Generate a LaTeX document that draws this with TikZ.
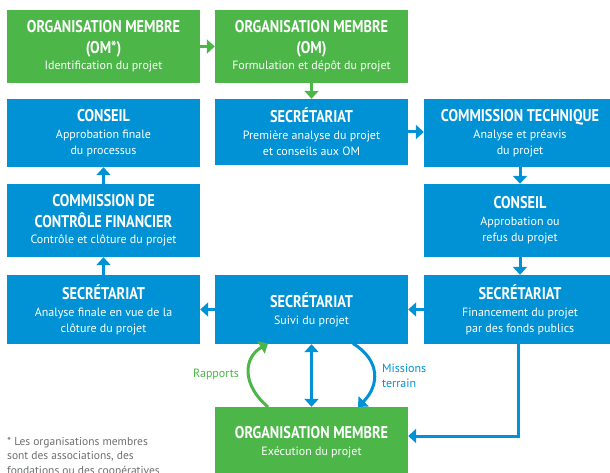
\documentclass[tikz,border=0pt]{standalone}
\usepackage{fontspec}
\setmainfont{PT Sans}
\newfontfamily\titlefam[FakeStretch=0.84]{PT Sans}
\usetikzlibrary{arrows.meta}
\definecolor{omgreen}{HTML}{4CB748}
\definecolor{cblue}{HTML}{0092D5}
\definecolor{ftgray}{HTML}{6D6E70}
\newcommand{\ttl}{\titlefam\bfseries\fontsize{17}{16}\selectfont}
\newcommand{\sbt}{\fontsize{12}{16}\selectfont}
\begin{document}
\begin{tikzpicture}[x=1pt,y=-1pt,
  box/.style={rectangle, inner sep=0pt, minimum width=193pt, align=center, text=white, font=\fontsize{12}{16}\selectfont},
  gbox/.style={box, fill=omgreen},
  bbox/.style={box, fill=cblue},
  flow/.style={line width=3pt, -{Triangle[length=8pt,width=14pt]}},
  gflow/.style={flow, draw=omgreen},
  bflow/.style={flow, draw=cblue},
  lbl/.style={font=\fontsize{12}{15.5}\selectfont, inner sep=0pt}
]
\useasboundingbox (0,0) rectangle (610,473);
\begin{scope}
\clip (0,0) rectangle (610,473);
% boxes
\node[gbox, minimum height=73pt] (om1) at (103.5,46.5) {\ttl ORGANISATION MEMBRE\\[5pt]\ttl (OM*)\\\sbt Identification du projet};
\node[gbox, minimum height=73pt] (om2) at (311.5,46.5) {\ttl ORGANISATION MEMBRE\\[5pt]\ttl (OM)\\\sbt Formulation et dépôt du projet};
\node[bbox, minimum height=68pt] (cons1) at (103.5,133) {\ttl CONSEIL\\[1pt]\sbt Approbation finale\\\sbt du processus};
\node[bbox, minimum height=66pt] (sec1) at (311.5,132) {\ttl SECRÉTARIAT\\[1pt]\sbt Première analyse du projet\\\sbt et conseils aux OM};
\node[bbox, minimum height=68pt, minimum width=192pt] (ct) at (520,133) {\ttl COMMISSION TECHNIQUE\\[1pt]\sbt Analyse et préavis\\\sbt du projet};
\node[bbox, minimum height=73pt] (ccf) at (103.5,220.5) {\ttl COMMISSION DE\\[5pt]\ttl CONTRÔLE FINANCIER\\\sbt Contrôle et clôture du projet};
\node[bbox, minimum height=73pt, minimum width=192pt] (cons2) at (520,220.5) {\ttl CONSEIL\\[1pt]\sbt Approbation ou\\\sbt refus du projet};
\node[bbox, minimum height=69pt] (secl) at (103.5,309.5) {\ttl SECRÉTARIAT\\[1pt]\sbt Analyse finale en vue de la\\\sbt clôture du projet};
\node[bbox, minimum height=69pt] (secm) at (311.5,309.5) {\ttl SECRÉTARIAT\\[1pt]\sbt Suivi du projet};
\node[bbox, minimum height=69pt, minimum width=192pt] (secr) at (520,309.5) {\ttl SECRÉTARIAT\\[1pt]\sbt Financement du projet\\\sbt par des fonds publics};
\node[gbox, minimum height=70pt] (om3) at (311.5,442) {\ttl ORGANISATION MEMBRE\\[1pt]\sbt Exécution du projet};
% straight arrows
\draw[gflow] (om1.east) -- (om2.west);
\draw[gflow] (om2.south) -- (sec1.north);
\draw[bflow] (sec1.east) -- (sec1.east -| ct.west);
\draw[bflow] (ct.south) -- (cons2.north);
\draw[bflow] (cons2.south) -- (secr.north);
\draw[bflow] (secr.west) -- (secm.east);
\draw[bflow] (secm.west) -- (secl.east);
\draw[bflow] (secl.north) -- (ccf.south);
\draw[bflow] (ccf.north) -- (cons1.north |- cons1.south);
% bottom connectors
\draw[line width=3pt, draw=cblue, {Triangle[length=8pt,width=14pt]}-{Triangle[length=8pt,width=14pt]}] (secm.south) -- (om3.north);
\coordinate (rs) at (268,407);
\coordinate (re) at (268,343.5);
\draw[gflow] (rs) .. controls (242,385) and (243,358) .. (re);
\coordinate (ms) at (353,343.5);
\coordinate (me) at (358,407);
\draw[bflow] (ms) .. controls (380,360) and (380,385) .. (me);
\coordinate (fc) at (518,436);
\draw[bflow] (secr.south -| fc) -- (fc) -- (fc -| om3.east);
% labels
\node[lbl, text=omgreen] (rap) at (216,374) {Rapports};
\node[lbl, text=cblue, align=left, anchor=west] (mis) at (382,376) {Missions\\terrain};
\node[anchor=north west, align=left, inner sep=0pt, text=ftgray, font=\fontsize{11.5}{14.5}\selectfont] (fn) at (7,437) {* Les organisations membres\\sont des associations, des\\fondations ou des coopératives};
\end{scope}
\end{tikzpicture}
\end{document}
